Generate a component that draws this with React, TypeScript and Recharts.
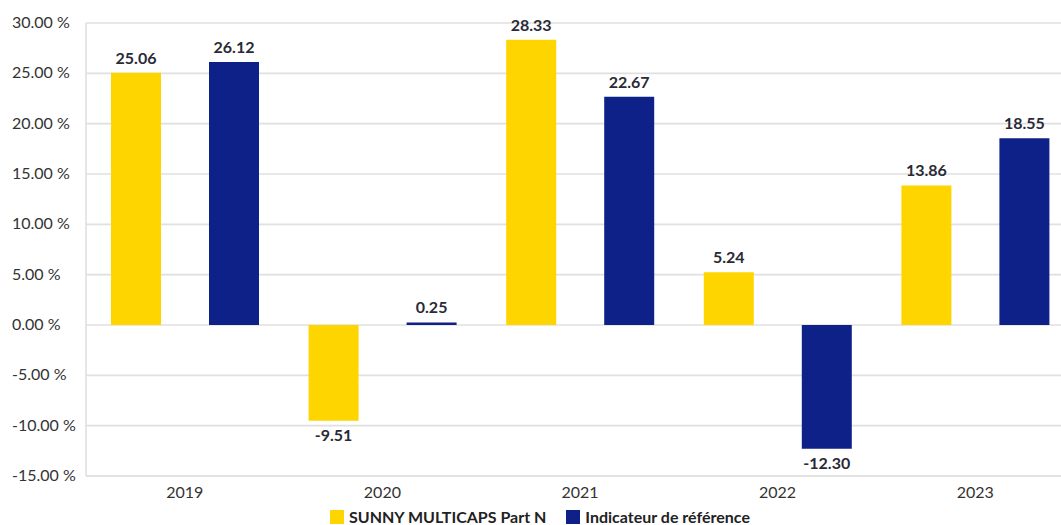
import React from 'react';
import { BarChart, Bar, XAxis, YAxis, CartesianGrid, Legend, LabelList } from 'recharts';

const years = ['2019', '2020', '2021', '2022', '2023'];
const fundReturns = [25.06, -9.51, 28.33, 5.24, 13.86];
const benchmarkReturns = [26.12, 0.25, 22.67, -12.3, 18.55];
const yTicks = [-15, -10, -5, 0, 5, 10, 15, 20, 25, 30];

const FUND_NAME = 'SUNNY MULTICAPS Part N';
const BENCH_NAME = 'Indicateur de référence';
const YELLOW = '#FFD500';
const BLUE = '#0D2189';
const FONT = 'Lato, "Open Sans", sans-serif';

const data = years.map((year, i) => ({
    year,
    fund: fundReturns[i],
    bench: benchmarkReturns[i],
}));

const ValueLabel = (props: any) => {
    const { x, y, width, height, value } = props;
    const top = Math.min(y, y + height);
    const bottom = Math.max(y, y + height);
    const ty = value < 0 ? bottom + 20 : top - 9;
    return (
        <text
            x={x + width / 2}
            y={ty}
            textAnchor="middle"
            fontFamily={FONT}
            fontSize={16}
            fontWeight={700}
            fill="#2a2a36"
        >
            {value.toFixed(2)}
        </text>
    );
};

// y tick labels are left aligned in the original
const YTick = (props: any) => {
    const { y, payload } = props;
    return (
        <text x={12} y={y} dy={5} textAnchor="start" fontFamily={FONT} fontSize={16} fill="#333">
            {`${payload.value.toFixed(2)} %`}
        </text>
    );
};

const LegendContent = () => (
    <div style={{ display: 'flex', justifyContent: 'center', alignItems: 'center', fontFamily: FONT, fontSize: 16, lineHeight: '16px', fontWeight: 700, color: '#222', paddingLeft: 6, paddingTop: 6 }}>
        <span style={{ display: 'inline-block', width: 14, height: 14, background: YELLOW, marginRight: 5 }} />
        <span style={{ marginRight: 20 }}>{FUND_NAME}</span>
        <span style={{ display: 'inline-block', width: 14, height: 14, background: BLUE, marginRight: 5 }} />
        <span>{BENCH_NAME}</span>
    </div>
);

const App: React.FC = () => {
    return (
        <div style={{ position: 'absolute', left: 0, top: 0, width: 1061, height: 525, overflow: 'hidden', background: '#fff' }}>
            <BarChart
                width={1080}
                height={525}
                data={data}
                margin={{ top: 23, right: 6, left: 0, bottom: 0 }}
                barGap={48}
            >
                <CartesianGrid vertical={false} stroke="#e0e0e0" strokeWidth={1.6} />
                <XAxis
                    dataKey="year"
                    height={27}
                    tickLine={false}
                    axisLine={{ stroke: '#e0e0e0', strokeWidth: 1.6 }}
                    tickMargin={5}
                    tick={{ fontFamily: FONT, fontSize: 16, fill: '#333' }}
                />
                <YAxis
                    width={86}
                    domain={[-15, 30]}
                    ticks={yTicks}
                    interval={0}
                    tickLine={false}
                    axisLine={{ stroke: '#e0e0e0', strokeWidth: 1.6 }}
                    tick={<YTick />}
                />
                <Legend verticalAlign="bottom" height={22} content={<LegendContent />} />
                <Bar dataKey="fund" name={FUND_NAME} fill={YELLOW} barSize={50} isAnimationActive={false}>
                    <LabelList dataKey="fund" content={<ValueLabel />} />
                </Bar>
                <Bar dataKey="bench" name={BENCH_NAME} fill={BLUE} barSize={50} isAnimationActive={false}>
                    <LabelList dataKey="bench" content={<ValueLabel />} />
                </Bar>
            </BarChart>
        </div>
    );
};

export default App;
